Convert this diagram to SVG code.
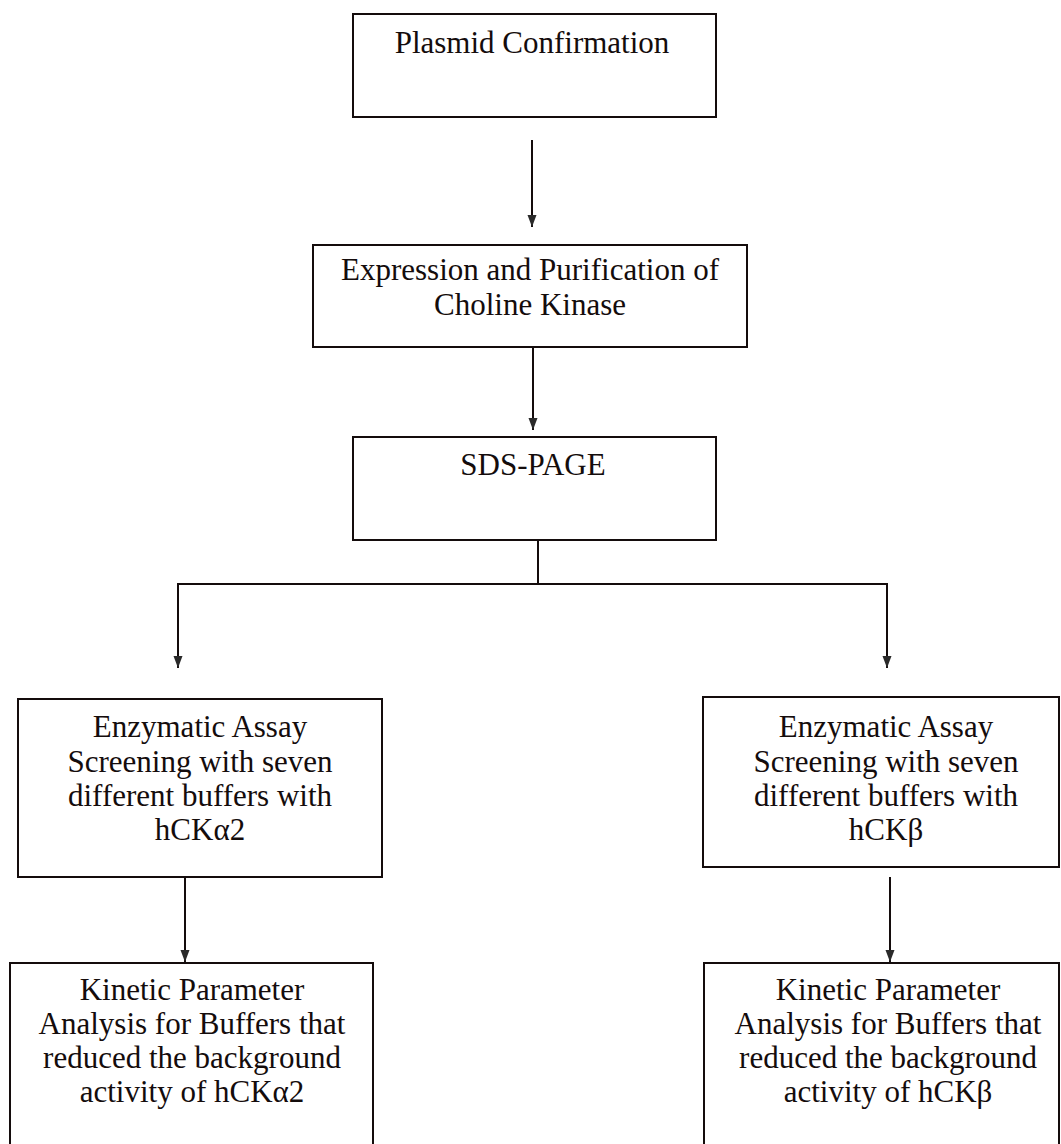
<svg xmlns="http://www.w3.org/2000/svg" width="1061" height="1144" viewBox="0 0 1061 1144">
  <defs>
    <marker id="arr" markerUnits="userSpaceOnUse" markerWidth="13" markerHeight="10" refX="12" refY="5" orient="auto">
      <path d="M0,0.5 L12,5 L0,9.5 z" fill="#2a2a2a"/>
    </marker>
    <style>
      .box { fill: #ffffff; stroke: #140c0c; stroke-width: 2; }
      .t { font-family: "Liberation Serif", "Times New Roman", serif; font-size: 31px; fill: #140c0c; text-anchor: middle; }
      .ln { fill: none; stroke: #140c0c; stroke-width: 2; }
    </style>
  </defs>
  <rect width="1061" height="1144" fill="#ffffff"/>

  <g id="connectors">
    <line class="ln" x1="532" y1="140" x2="532" y2="227" marker-end="url(#arr)"/>
    <line class="ln" x1="533" y1="347" x2="533" y2="430" marker-end="url(#arr)"/>
    <line class="ln" x1="538" y1="540" x2="538" y2="584"/>
    <line class="ln" x1="177" y1="584" x2="888" y2="584"/>
    <line class="ln" x1="178" y1="583" x2="178" y2="668" marker-end="url(#arr)"/>
    <line class="ln" x1="887" y1="583" x2="887" y2="668" marker-end="url(#arr)"/>
    <line class="ln" x1="185" y1="877" x2="185" y2="962" marker-end="url(#arr)"/>
    <line class="ln" x1="890" y1="877" x2="890" y2="962" marker-end="url(#arr)"/>
  </g>

  <g id="plasmid">
    <rect class="box" x="353" y="14" width="363" height="103"/>
    <text class="t" x="532" y="53">Plasmid Confirmation</text>
  </g>

  <g id="expression">
    <rect class="box" x="313" y="245" width="434" height="102"/>
    <text class="t" x="530" y="280">Expression and Purification of</text>
    <text class="t" x="530" y="315">Choline Kinase</text>
  </g>

  <g id="sdspage">
    <rect class="box" x="353" y="437" width="363" height="103"/>
    <text class="t" x="533" y="475">SDS-PAGE</text>
  </g>

  <g id="enzymatic-alpha">
    <rect class="box" x="18" y="699" width="364" height="178"/>
    <text class="t" x="200" y="737">Enzymatic Assay</text>
    <text class="t" x="200" y="772">Screening with seven</text>
    <text class="t" x="200" y="806">different buffers with</text>
    <text class="t" x="200" y="840">hCKα2</text>
  </g>

  <g id="enzymatic-beta">
    <rect class="box" x="703" y="697" width="356" height="170"/>
    <text class="t" x="886" y="737">Enzymatic Assay</text>
    <text class="t" x="886" y="772">Screening with seven</text>
    <text class="t" x="886" y="806">different buffers with</text>
    <text class="t" x="886" y="840">hCKβ</text>
  </g>

  <g id="kinetic-alpha">
    <rect class="box" x="10" y="963" width="363" height="200"/>
    <text class="t" x="192" y="1000">Kinetic Parameter</text>
    <text class="t" x="192" y="1034">Analysis for Buffers that</text>
    <text class="t" x="192" y="1068">reduced the background</text>
    <text class="t" x="192" y="1102">activity of hCKα2</text>
  </g>

  <g id="kinetic-beta">
    <rect class="box" x="704" y="963" width="355" height="200"/>
    <text class="t" x="888" y="1000">Kinetic Parameter</text>
    <text class="t" x="888" y="1034">Analysis for Buffers that</text>
    <text class="t" x="888" y="1068">reduced the background</text>
    <text class="t" x="888" y="1102">activity of hCKβ</text>
  </g>
</svg>
